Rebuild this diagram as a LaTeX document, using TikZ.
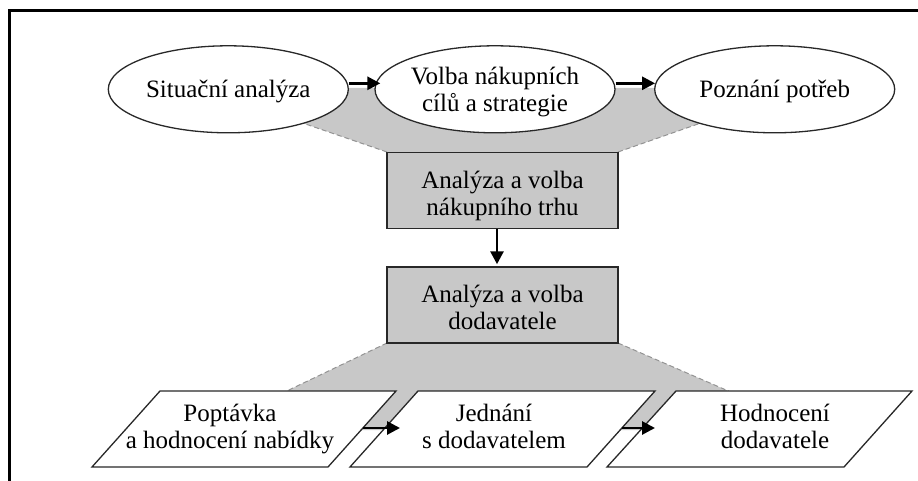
\documentclass[tikz,border=0pt]{standalone}
\usepackage{fontspec}
\setmainfont{Liberation Serif}
\usetikzlibrary{shapes.geometric,arrows.meta}
\newcommand\tst[1]{\rule{0pt}{#1}}
\newcommand\bst[1]{\rule[-#1]{0pt}{#1}}
\definecolor{greyfill}{RGB}{200,200,200}
\definecolor{edge}{RGB}{40,40,40}
\begin{document}
\begin{tikzpicture}[x=1pt,y=-1pt,
  font=\fontsize{25}{27}\selectfont,
  oval/.style={ellipse, draw=edge, line width=1.3pt, fill=white,
    minimum width=240pt, minimum height=87pt, inner xsep=-4pt, inner ysep=0pt, align=center},
  gbox/.style={rectangle, draw=edge, line width=1.5pt, fill=greyfill,
    minimum width=231pt, minimum height=76pt, inner sep=0pt, align=center},
  lbl/.style={inner sep=0pt, align=center},
  para/.style={draw=edge, line width=1.3pt, fill=white},
  arr/.style={line width=2.8pt, -{Triangle[length=13pt,width=13pt]}},
  seam/.style={draw=gray!85, dash pattern=on 5pt off 3pt, line width=1pt}]
\useasboundingbox (0,0) rectangle (918,481);
% frame
\draw[line width=3pt] (9,481) -- (9,11) -- (918,11);
% grey fields
\fill[greyfill] (387,152) -- (290,118.7) -- (290,88) -- (730,88) -- (730,112.8) -- (618,152) -- cycle;
\draw[seam] (387,152) -- (290,118.7);
\draw[seam] (618,152) -- (730,112.8);
\fill[greyfill] (387,343) -- (268,400) -- (268,430) -- (749,430) -- (749,400) -- (618,343) -- cycle;
\draw[seam] (387,343) -- (268,400);
\draw[seam] (618,343) -- (749,400);
% ellipses
\node[oval] (e1) at (228.3,89.3) {\tst{23pt}Situační analýza\bst{6pt}};
\node[oval] (e2) at (495,89.3) {\tst{24.4pt}Volba nákupních\\cílů a strategie\bst{6pt}};
\node[oval] (e3) at (774.7,89.3) {\tst{23pt}Poznání potřeb\bst{6pt}};
% boxes
\node[gbox] (b1) at (502.5,190.5) {\tst{28.6pt}Analýza a volba\\nákupního trhu\bst{6pt}};
\node[gbox] (b2) at (502.5,305) {\tst{28.6pt}Analýza a volba\\dodavatele\bst{6pt}};
% parallelograms
\draw[para] (160,391) -- (396,391) -- (328,467) -- (92,467) -- cycle;
\draw[para] (418,391) -- (655,391) -- (587,467) -- (350,467) -- cycle;
\draw[para] (676,391) -- (912,391) -- (844,467) -- (607,467) -- cycle;
\node[lbl] (p1) at (230,429.2) {\tst{20pt}Poptávka\\a hodnocení nabídky\bst{8pt}};
\node[lbl] (p2) at (494,429.2) {\tst{20pt}Jednání\\s dodavatelem\bst{8pt}};
\node[lbl] (p3) at (775,429.2) {\tst{20pt}Hodnocení\\dodavatele\bst{8pt}};
\coordinate (p1out) at (363,428);
\coordinate (p2in) at (400,428);
\coordinate (p2out) at (622,428);
\coordinate (p3in) at (655,428);
% arrows
\draw[arr] ([yshift=6pt]e1.east) -- ([yshift=6pt,xshift=6pt]e2.west);
\draw[arr] ([yshift=6pt]e2.east) -- ([yshift=6pt,xshift=1pt]e3.west);
\draw[arr] ([xshift=-5.5pt]b1.south) -- ([xshift=-5.5pt,yshift=2pt]b2.north);
\draw[arr] (p1out) -- (p2in);
\draw[arr] (p2out) -- (p3in);
\end{tikzpicture}
\end{document}
